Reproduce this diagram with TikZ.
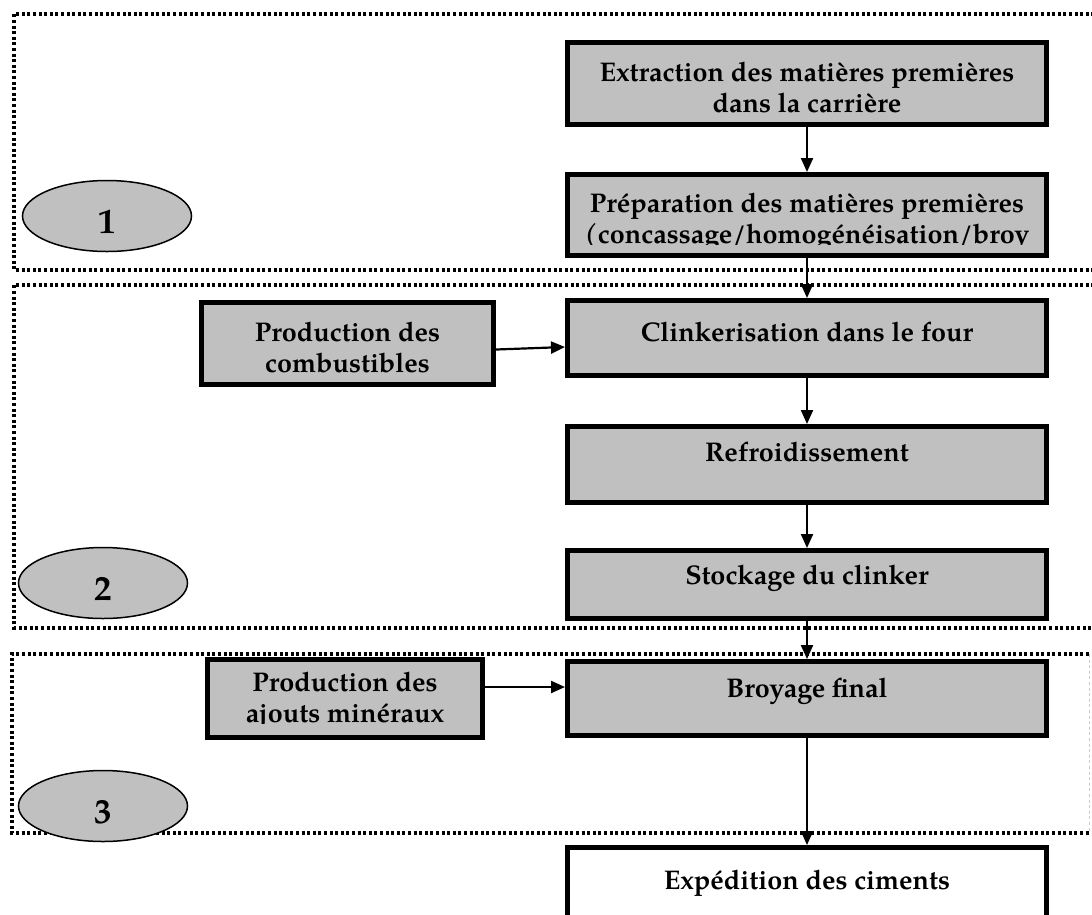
\documentclass[tikz,border=0pt]{standalone}
\usepackage{fontspec}
\setmainfont{TeX Gyre Pagella}
\usetikzlibrary{arrows.meta,calc,shapes.geometric}
\definecolor{boxgray}{HTML}{C0C0C0}
\begin{document}
\begin{tikzpicture}[x=1pt,y=-1pt,
  procbox/.style={draw=black, line width=5pt, fill=boxgray, rectangle, inner sep=0pt},
  whitebox/.style={procbox, fill=white},
  phase/.style={draw=black, line width=3.2pt, dash pattern=on 3pt off 2.6pt},
  phaseoval/.style={ellipse, draw=black, line width=1.5pt, fill=boxgray, inner sep=0pt, minimum width=169pt, minimum height=71pt},
  lbl/.style={font=\bfseries\fontsize{27}{32}\selectfont, anchor=base, inner sep=0pt},
  numlbl/.style={font=\bfseries\fontsize{35}{40}\selectfont, anchor=base, inner sep=0pt},
  flow/.style={draw=black, line width=2.2pt, -{Triangle[length=14pt,width=12pt]}}
]
\clip (0,0) rectangle (1092,914);
\fill[white] (0,0) rectangle (1092,914);

% phase frames
\draw[phase] (1100,14) -- (14,14) -- (14,270) -- (1100,270);
\draw[phase] (1100,285) -- (14,285) -- (14,628) -- (1100,628);
\draw[phase] (1089,654) -- (12,654) -- (12,833) -- (1089,833);
\draw[draw=black!20, line width=1pt, dash pattern=on 3pt off 2.6pt] (1089,654) -- (1089,833);

% phase ovals
\node[phaseoval] (ph1) at (107,216) {};
\node[numlbl] (n1) at (107,233) {1};
\node[phaseoval] (ph2) at (103,583) {};
\node[numlbl] (n2) at (103,600) {2};
\node[phaseoval] (ph3) at (103,806) {};
\node[numlbl] (n3) at (103,823) {3};

% main column
\node[procbox, minimum width=479pt, minimum height=82pt] (ext) at (807,83.5) {};
\node[lbl] (ext1) at (807,81) {Extraction des matières premières};
\node[lbl] (ext2) at (807,112) {dans la carrière};

\node[procbox, minimum width=479pt, minimum height=81pt] (prep) at (807,215) {};
\begin{scope}
  \clip (571,177) rectangle (1043,244);
  \node[lbl] (prep1) at (807,212) {Préparation des matières premières};
  \node[lbl] (prep2) at (807,243) {(concassage/homogénéisation/broy};
\end{scope}

\node[procbox, minimum width=479pt, minimum height=75pt] (clk) at (807,338) {};
\node[lbl] (clk1) at (807,341) {Clinkerisation dans le four};

\node[procbox, minimum width=479pt, minimum height=76pt] (ref) at (807,464.5) {};
\node[lbl] (ref1) at (807,461) {Refroidissement};

\node[procbox, minimum width=479pt, minimum height=68pt] (sto) at (807,584.5) {};
\node[lbl] (sto1) at (807,584) {Stockage du clinker};

\node[procbox, minimum width=479pt, minimum height=74pt] (brf) at (807,698.5) {};
\node[lbl] (brf1) at (807,697) {Broyage final};

\node[whitebox, minimum width=479pt, minimum height=80pt] (exp) at (807,887.5) {};
\node[lbl] (exp1) at (807,889) {Expédition des ciments};

% side inputs
\node[procbox, minimum width=292pt, minimum height=82pt] (comb) at (347.5,343.5) {};
\node[lbl] (comb1) at (347.5,341) {Production des};
\node[lbl] (comb2) at (347.5,372) {combustibles};

\node[procbox, minimum width=275pt, minimum height=78pt] (ajt) at (345,698.5) {};
\begin{scope}
  \clip (210,662) rectangle (480,723);
  \node[lbl] (ajt1) at (345,691) {Production des};
  \node[lbl] (ajt2) at (345,722) {ajouts minéraux};
\end{scope}

% connectors
\draw[flow] (ext.south) -- (prep.north);
\draw[flow] (prep.south) -- (clk.north);
\draw[flow] (clk.south) -- (ref.north);
\draw[flow] (ref.south) -- (sto.north);
\draw[flow] (sto.south) -- (brf.north);
\draw[flow] (brf.south) -- (exp.north);
\draw[flow] ($(comb.east)+(0,6)$) -- ($(clk.west)+(0,9)$);
\draw[flow] ($(ajt.east)+(-3,-11.5)$) -- ($(brf.west)+(0,-11.5)$);
\end{tikzpicture}
\end{document}
